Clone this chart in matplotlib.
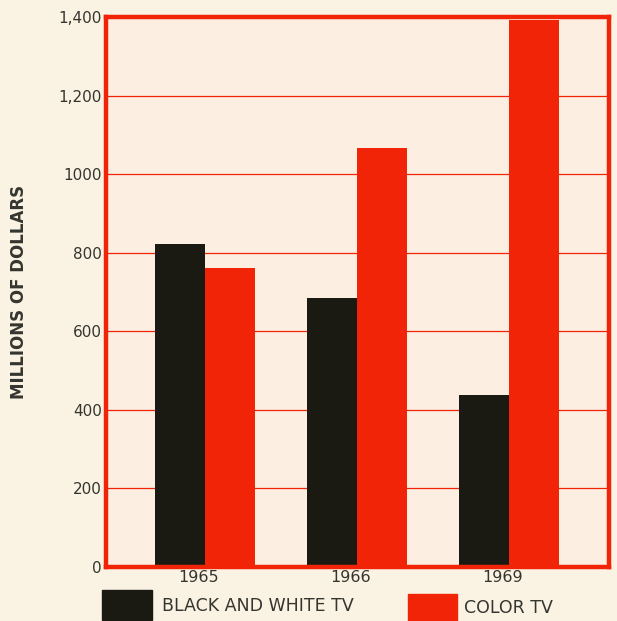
import matplotlib.pyplot as plt
from matplotlib.patches import Rectangle
import numpy as np

# --- データ ---
years = ['1965', '1966', '1969']
bw_tv = [822, 685, 438]
color_tv = [761, 1066, 1392]
y_ticks = [0, 200, 400, 600, 800, 1000, 1200, 1400]
y_tick_labels = ['0', '200', '400', '600', '800', '1000', '1,200', '1,400']

# --- 色 ---
bg = '#faf3e3'
plot_bg = '#fcefe1'
red = '#f12408'
black = '#1b1a12'
text_col = '#35352f'

plt.rcParams['font.family'] = ['DejaVu Sans']

fig = plt.figure(figsize=(6.17, 6.21), dpi=100, facecolor=bg)
ax = fig.add_axes([0.1718, 0.087, 0.8152, 0.8856])
ax.set_facecolor(plot_bg)

x = np.arange(len(years))
w = 0.33
ax.bar(x - w / 2, bw_tv, width=w, color=black, zorder=3)
ax.bar(x + w / 2, color_tv, width=w, color=red, zorder=3)

ax.set_xlim(-0.65, 2.66)
ax.set_ylim(0, 1400)

# 横グリッド (赤い細線)
for t in y_ticks[1:-1]:
    ax.axhline(t, color=red, lw=0.9, zorder=1)

ax.set_yticks(y_ticks)
ax.set_yticklabels(y_tick_labels, fontsize=11, color=text_col)
ax.set_xticks(x - 0.04)
ax.set_xticklabels(years, fontsize=11.5, color=text_col)
ax.tick_params(axis='both', length=0, pad=3)
ax.tick_params(axis='x', pad=2)

for s in ax.spines.values():
    s.set_color(red)
    s.set_linewidth(3.2)
    s.set_zorder(4)

fig.text(0.03, 0.53, 'MILLIONS OF DOLLARS', rotation=90, fontsize=12,
         fontweight='bold', color=text_col, ha='center', va='center')

# --- 凡例 (図の下) ---
fw, fh = 617, 621
fig.patches.append(Rectangle((102 / fw, 1 - 620 / fh), 50 / fw, 30 / fh,
                             transform=fig.transFigure, color=black))
fig.text(162 / fw, 1 - 606 / fh, 'BLACK AND WHITE TV', fontsize=12.5,
         color=text_col, va='center', ha='left')
fig.patches.append(Rectangle((408 / fw, 1 - 621 / fh), 49 / fw, 27 / fh,
                             transform=fig.transFigure, color=red))
fig.text(464 / fw, 1 - 608 / fh, 'COLOR TV', fontsize=12.5,
         color=text_col, va='center', ha='left')

fig.savefig('out.png', dpi=100, facecolor=bg)
